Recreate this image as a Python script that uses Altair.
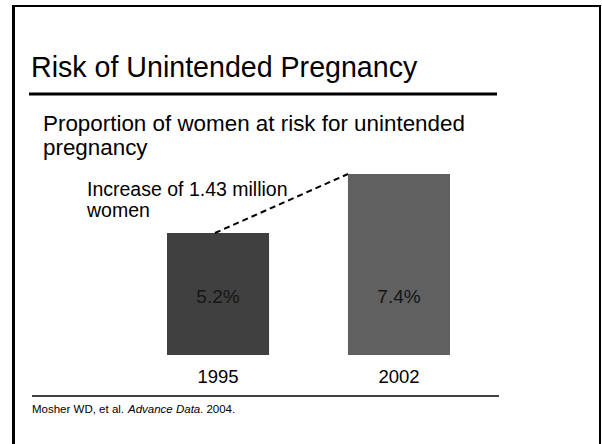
import altair as alt
import pandas as pd

# Survey years, share of women at risk (%), and bar fills
years = ["1995", "2002"]
shares = [5.2, 7.4]
share_labels = ["5.2%", "7.4%"]
bar_colors = ["#404040", "#606060"]

title_text = "Risk of Unintended Pregnancy"
subtitle_lines = ["Proportion of women at risk for unintended", "pregnancy"]
note_lines = ["Increase of 1.43 million", "women"]
source_plain = "Mosher WD, et al."
source_italic = "Advance Data"
source_tail = ". 2004."

FONT = "Liberation Sans"
BASE = 0.65  # value at the bars' common floor

bars_df = pd.DataFrame({"year": years, "share": shares, "label": share_labels})
link_df = pd.DataFrame({"from": [years[0]], "to": [years[1]],
                        "v0": [shares[0]], "v1": [shares[1]]})

x_scale = alt.Scale(domain=years, range=[167, 450], paddingInner=0.436, paddingOuter=0)
y_scale = alt.Scale(domain=[BASE, max(shares)], range=[355, 174], zero=False, nice=False)

bars = alt.Chart(bars_df).mark_bar().encode(
    x=alt.X("year:N", scale=x_scale, axis=None),
    y=alt.Y("share:Q", scale=y_scale, axis=None),
    y2=alt.datum(BASE),
    color=alt.Color("year:N", scale=alt.Scale(domain=years, range=bar_colors), legend=None),
)

value_text = alt.Chart(bars_df).mark_text(
    font=FONT, fontSize=19, color="#151515", baseline="middle"
).encode(
    x=alt.X("year:N", scale=x_scale, axis=None),
    y=alt.value(297),
    text="label:N",
)

year_text = alt.Chart(bars_df).mark_text(
    font=FONT, fontSize=18.5, color="black", baseline="middle"
).encode(
    x=alt.X("year:N", scale=x_scale, axis=None),
    y=alt.value(377),
    text="year:N",
)

link = alt.Chart(link_df).mark_rule(
    color="black", strokeWidth=2, strokeDash=[6, 4]
).encode(
    x=alt.X("from:N", scale=x_scale, axis=None, bandPosition=0.47),
    x2=alt.X2("to:N", bandPosition=0),
    y=alt.Y("v0:Q", scale=y_scale, axis=None),
    y2="v1:Q",
)

def label(text, x, y, size, **kw):
    return alt.Chart(pd.DataFrame({"t": [text]})).mark_text(
        font=FONT, fontSize=size, align="left", baseline="alphabetic", color="black", **kw
    ).encode(x=alt.value(x), y=alt.value(y), text="t:N")

def hline(x0, x1, y, w):
    return alt.Chart(pd.DataFrame({"k": [0]})).mark_rule(color="black", strokeWidth=w).encode(
        x=alt.value(x0), x2=alt.value(x1), y=alt.value(y))

def vline(x, y0, y1, w):
    return alt.Chart(pd.DataFrame({"k": [0]})).mark_rule(color="black", strokeWidth=w).encode(
        x=alt.value(x), y=alt.value(y0), y2=alt.value(y1))

frame = [
    vline(13.5, 5, 444, 3),
    hline(12, 601, 6, 2),
    vline(600, 5, 444, 2),
]

headings = [
    label(title_text, 31, 77, 28.6),
    hline(29, 497, 94, 3),
    label(subtitle_lines[0], 43, 131, 22.4),
    label(subtitle_lines[1], 43, 155, 22.4),
    label(note_lines[0], 87, 196, 19.5),
    label(note_lines[1], 87, 217, 19.5),
    hline(32, 499, 396, 1.5),
    label(source_plain, 32, 413, 11.5),
    label(source_italic, 128, 413, 11.5, fontStyle="italic"),
    label(source_tail, 200, 413, 11.5),
]

chart = alt.layer(
    bars, link, value_text, year_text, *headings, *frame
).properties(
    width=602, height=444, padding=0, autosize=alt.AutoSizeParams(type="none"),
    background="white",
).configure_view(stroke=None)

chart.save("out.html", embed_options={"renderer": "svg", "actions": False})
